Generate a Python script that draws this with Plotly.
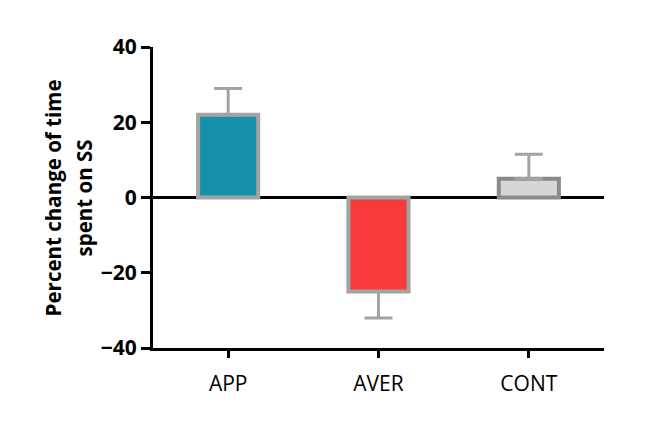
import plotly.graph_objects as go

categories = ["APP", "AVER", "CONT"]
means = [22, -25, 5]
errors = [7, 7, 6.5]
fill_colors = ["#1791ab", "#f83c3c", "#d6d6d6"]
line_colors = ["#a3a3a3", "#a3a3a3", "#8a8a8a"]
title_lines = ["Percent change of time", "spent on SS"]

err_plus = [e if m >= 0 else 0 for m, e in zip(means, errors)]
err_minus = [e if m < 0 else 0 for m, e in zip(means, errors)]

fig = go.Figure()
fig.add_trace(go.Bar(
    x=categories, y=means, width=0.4,
    marker=dict(color=fill_colors, line=dict(color=line_colors, width=4)),
    error_y=dict(type="data", symmetric=False, array=err_plus, arrayminus=err_minus,
                 color="#a3a3a3", thickness=3, width=14),
))

fig.update_layout(
    width=671, height=423,
    margin=dict(l=153, r=67, t=47, b=75),
    plot_bgcolor="white", paper_bgcolor="white",
    showlegend=False,
    font=dict(family="Open Sans", color="black"),
)
fig.update_yaxes(
    range=[-40, 40], tickvals=[-40, -20, 0, 20, 40],
    showgrid=False, showline=True, linecolor="black", linewidth=3,
    ticks="outside", ticklen=9, tickwidth=3, tickcolor="black",
    tickfont=dict(size=21, family="Open Sans", weight="bold"),
    zeroline=True, zerolinecolor="black", zerolinewidth=2.5,
)
fig.update_xaxes(
    range=[-0.5, 2.5],
    showgrid=False, showline=True, linecolor="black", linewidth=3,
    ticks="outside", ticklen=7, tickwidth=3, tickcolor="black",
    tickfont=dict(size=21, family="Open Sans"), ticklabelstandoff=8,
)
for xp, line in zip([-0.222, -0.153], title_lines):
    fig.add_annotation(
        text=line, textangle=-90,
        xref="paper", yref="paper", x=xp, y=0.5, xanchor="center", yanchor="middle",
        showarrow=False, font=dict(size=20.5, family="Open Sans", weight="bold"),
    )
fig.write_html("out.html")
